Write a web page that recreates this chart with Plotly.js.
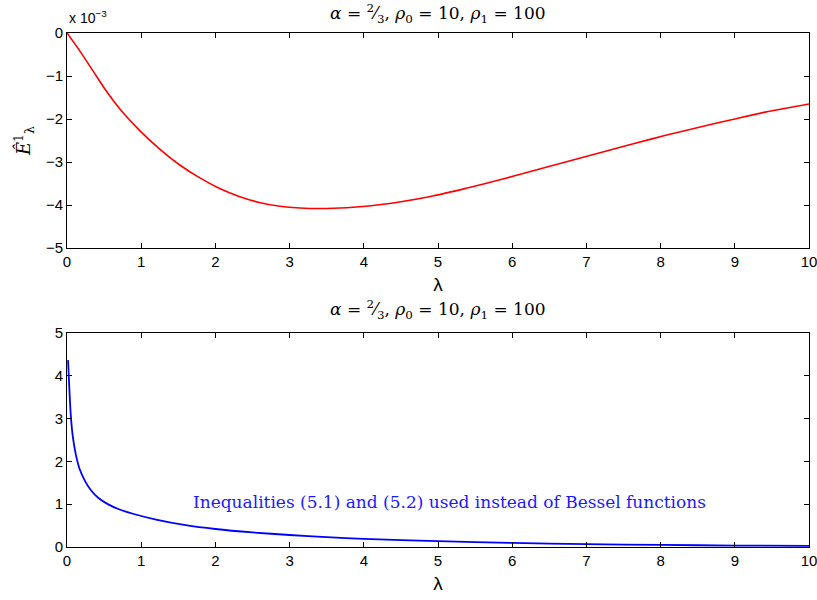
<!DOCTYPE html>
<html>
<head>
<meta charset="utf-8">
<script src="https://cdn.plot.ly/plotly-3.0.1.min.js"></script>
<style>
  html, body { margin: 0; padding: 0; background: #fff; }
  #chart { width: 817px; height: 600px; }
</style>
</head>
<body>
<div id="chart"></div>
<script>
// top panel: E^1_lambda, values in units of 1e-3
const lambdaTop = [0, 0.17, 0.35, 0.53, 0.71, 0.98, 1.25, 1.52, 1.79, 2.05, 2.32, 2.59, 2.87, 3.14,
    3.5, 4.03, 4.48, 4.93, 5.38, 5.82, 6.27, 6.72, 7.17, 7.62, 8.07, 8.52, 8.97, 9.41, 10];
const energyTop = [0, -0.41, -0.88, -1.35, -1.76, -2.27, -2.70, -3.07, -3.37, -3.61, -3.80, -3.94, -4.03, -4.07,
    -4.08, -4.03, -3.93, -3.79, -3.61, -3.42, -3.21, -3.00, -2.79, -2.58, -2.38, -2.19, -2.01, -1.84, -1.65];

// bottom panel: bound using inequalities
const lambdaBottom = [0.014, 0.03, 0.05, 0.08, 0.12, 0.17, 0.24, 0.32, 0.42, 0.55, 0.7, 0.9, 1.2, 1.6,
    2.0, 2.5, 3.0, 3.5, 4.0, 5.0, 6.0, 7.0, 8.0, 9.0, 10];
const boundBottom = [4.36, 3.75, 3.1, 2.55, 2.15, 1.82, 1.55, 1.33, 1.15, 1.0, 0.88, 0.77, 0.64, 0.51,
    0.42, 0.34, 0.28, 0.23, 0.19, 0.135, 0.095, 0.068, 0.048, 0.034, 0.024];

const xTicks = [0, 1, 2, 3, 4, 5, 6, 7, 8, 9, 10];
const yTicksTop = [0, -1, -2, -3, -4, -5];
const yTicksBottom = [0, 1, 2, 3, 4, 5];

const titleText = '<i>α</i> = <sup>2</sup>⁄<sub>3</sub>, <i>ρ</i><sub>0</sub> = 10, <i>ρ</i><sub>1</sub> = 100';
const noteText = 'Inequalities (5.1) and (5.2) used instead of Bessel functions';

const serif = 'DejaVu Serif, Liberation Serif, serif';
const sans = 'Liberation Sans, Arial, sans-serif';

const axisBase = {
    showline: true, linecolor: '#000', linewidth: 1, mirror: 'ticks',
    ticks: 'inside', ticklen: 5, tickcolor: '#000', tickwidth: 1,
    showgrid: false, zeroline: false, ticklabeloverflow: 'allow',
    tickfont: { family: sans, size: 15, color: '#000' }
};

const traces = [
    {
        x: lambdaTop, y: energyTop, type: 'scatter', mode: 'lines',
        line: { color: '#ff0000', width: 1.6, shape: 'spline', smoothing: 0.8 },
        xaxis: 'x', yaxis: 'y', hoverinfo: 'x+y'
    },
    {
        x: lambdaBottom, y: boundBottom, type: 'scatter', mode: 'lines',
        line: { color: '#0000ff', width: 1.8, shape: 'spline', smoothing: 0.6 },
        xaxis: 'x2', yaxis: 'y2', hoverinfo: 'x+y'
    }
];

const layout = {
    width: 817, height: 600,
    paper_bgcolor: '#fff', plot_bgcolor: '#fff',
    showlegend: false,
    margin: { l: 67, r: 8, t: 33, b: 53 },
    xaxis: {
        ...axisBase, domain: [0, 1], range: [0, 10], tickvals: xTicks, anchor: 'y',
        title: { text: 'λ', font: { family: sans, size: 19, color: '#000' }, standoff: 8 }
    },
    yaxis: {
        ...axisBase, domain: [0.5817, 1], range: [-5, 0], tickvals: yTicksTop, anchor: 'x',
        title: { text: '<i>Ê</i><sup>1</sup><sub>λ</sub>', font: { family: serif, size: 18, color: '#000' }, standoff: 10 }
    },
    xaxis2: {
        ...axisBase, domain: [0, 1], range: [0, 10], tickvals: xTicks, anchor: 'y2',
        title: { text: 'λ', font: { family: sans, size: 19, color: '#000' }, standoff: 8 }
    },
    yaxis2: {
        ...axisBase, domain: [0, 0.4169], range: [0, 5], tickvals: yTicksBottom, anchor: 'x2'
    },
    annotations: [
        {
            text: titleText, xref: 'paper', yref: 'paper', x: 0.5, y: 1,
            xanchor: 'center', yanchor: 'bottom', yshift: 5, showarrow: false,
            font: { family: serif, size: 17, color: '#000' }
        },
        {
            text: titleText, xref: 'paper', yref: 'paper', x: 0.5, y: 0.4169,
            xanchor: 'center', yanchor: 'bottom', yshift: 9, showarrow: false,
            font: { family: serif, size: 17, color: '#000' }
        },
        {
            text: 'x 10<sup>−3</sup>', xref: 'paper', yref: 'paper', x: 0, y: 1,
            xanchor: 'left', yanchor: 'bottom', yshift: 5, showarrow: false,
            font: { family: sans, size: 14, color: '#000' }
        },
        {
            text: noteText, xref: 'x2', yref: 'y2', x: 5.15, y: 1.05,
            xanchor: 'center', yanchor: 'middle', showarrow: false,
            font: { family: serif, size: 17, color: '#1a1aff' }
        }
    ]
};

Plotly.newPlot('chart', traces, layout, { displayModeBar: false, responsive: false });
</script>
</body>
</html>
